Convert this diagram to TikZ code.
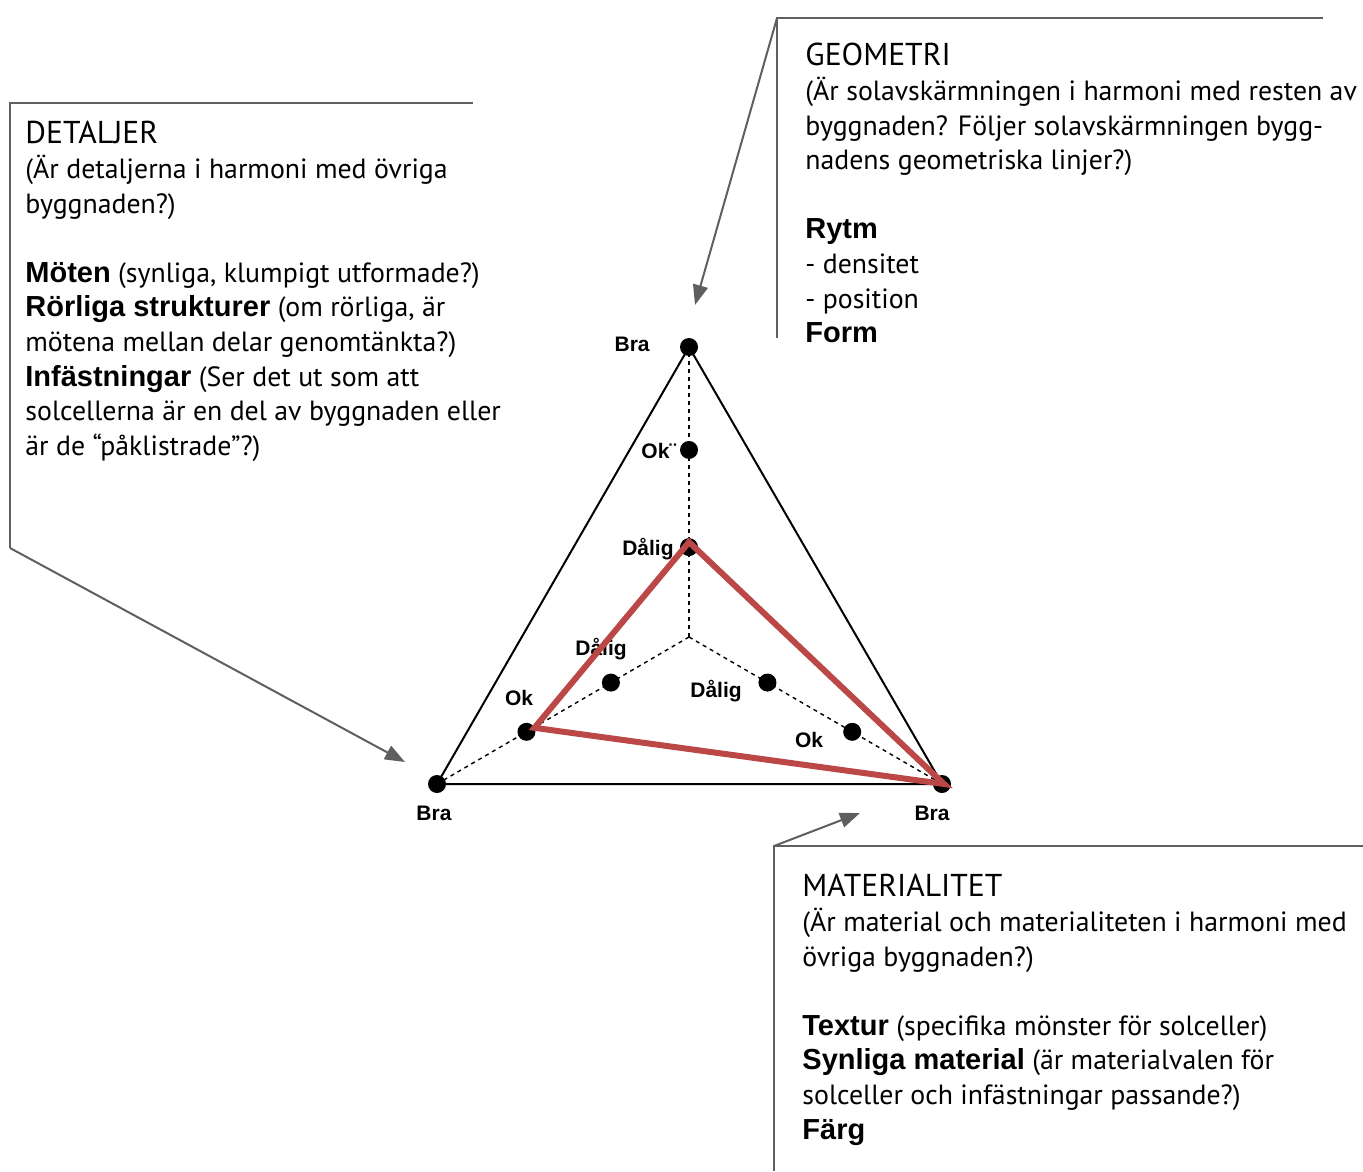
\documentclass[tikz,border=0pt]{standalone}
\usepackage{fontspec}
\setmainfont{PT Sans}
\newfontfamily\labelfont{Liberation Sans}
\usetikzlibrary{arrows.meta,calc}

\definecolor{callgray}{RGB}{95,95,95}
\definecolor{scorered}{RGB}{187,72,70}

\tikzset{
  callout/.style={draw=callgray, line width=1pt},
  calltip/.style={callout, -{Triangle[length=10pt,width=7.5pt]}},
  axis/.style={line width=0.7pt, dash pattern=on 2pt off 2pt},
  dot/.style={circle, fill=black, inner sep=0pt, minimum size=9pt},
  lbl/.style={font=\labelfont\bfseries\fontsize{10.5}{12}\selectfont, inner sep=0pt},
  txt/.style={anchor=north west, align=left, inner sep=0pt,
    font=\fontsize{13.9}{17.3}\selectfont},
}
\newcommand{\hd}[1]{{\labelfont\bfseries\fontsize{14.5}{17.3}\selectfont #1}}
\newcommand{\ttl}[1]{{\fontsize{15.8}{17.3}\selectfont #1}}

\begin{document}
\begin{tikzpicture}[x=0.5pt,y=-0.5pt]
\useasboundingbox (0,0) rectangle (1363,1171);

% triangle corners and centre
\coordinate (T) at (689,347);
\coordinate (L) at (437,784);
\coordinate (R) at (942,784);
\coordinate (C) at (689,637);

% score points on each axis
\coordinate (dT) at ($(C)!0.31!(T)$);
\coordinate (oT) at ($(C)!0.645!(T)$);
\coordinate (dL) at ($(C)!0.31!(L)$);
\coordinate (oL) at ($(C)!0.645!(L)$);
\coordinate (dR) at ($(C)!0.31!(R)$);
\coordinate (oR) at ($(C)!0.645!(R)$);

\draw[line width=1pt] (T) -- (L) -- (R) -- cycle;
\draw[axis] (C) -- (T);
\draw[axis] (C) -- (L);
\draw[axis] (C) -- (R);

\foreach \p in {T,L,R,dT,oT,dL,oL,dR,oR}
  \node[dot] (n\p) at (\p) {};

% scale labels
\node[lbl, anchor=east] (braT) at (650,344) {Bra};
\node[lbl, anchor=west] (okT) at (641,451) {Ok¨};
\node[lbl, anchor=east] (daligT) at (674,549) {Dålig};
\node[lbl] (daligL) at (601,649) {Dålig};
\node[lbl] (okL) at (519,698) {Ok};
\node[lbl] (daligR) at (716,691) {Dålig};
\node[lbl] (okR) at (809,740) {Ok};
\node[lbl] (braL) at (434,813) {Bra};
\node[lbl] (braR) at (932,813) {Bra};

% assessed profile
\draw[scorered, line width=3pt]
  ($(dT)+(0,-5)$) -- ($(oL)+(8,-4)$) -- ($(R)+(2,0)$) -- cycle;

% callout DETALJER
\coordinate (detC) at (10,103);
\coordinate (detE) at (473,103);
\coordinate (detB) at (10,548);
\coordinate (detTip) at (405,762);
\draw[callout] (detE) -- (detC) -- (detB);
\draw[calltip] (detB) -- (detTip);
\node[txt] (detaljer) at (25,121) {\ttl{DETALJER}\\
(Är detaljerna i harmoni med övriga\\
byggnaden?)\\[17.3pt]
\hd{Möten} (synliga, klumpigt utformade?)\\
\hd{Rörliga strukturer} (om rörliga, är\\
mötena mellan delar genomtänkta?)\\
\hd{Infästningar} (Ser det ut som att\\
solcellerna är en del av byggnaden eller\\
är de “påklistrade”?)};

% callout GEOMETRI
\coordinate (geoC) at (777,18);
\coordinate (geoE) at (1323,18);
\coordinate (geoB) at (777,338);
\coordinate (geoTip) at (695,305);
\draw[callout] (geoE) -- (geoC) -- (geoB);
\draw[calltip] (geoC) -- (geoTip);
\node[txt] (geometri) at (805,43) {\ttl{GEOMETRI}\\
(Är solavskärmningen i harmoni med resten av\\
byggnaden? Följer solavskärmningen bygg-\\
nadens geometriska linjer?)\\[17.3pt]
\hd{Rytm}\\
- densitet\\
- position\\
\hd{Form}};

% callout MATERIALITET
\coordinate (matC) at (774,846);
\coordinate (matE) at (1363,846);
\coordinate (matB) at (774,1171);
\coordinate (matTip) at (860,813);
\draw[callout] (matE) -- (matC) -- (matB);
\draw[calltip] (matC) -- (matTip);
\node[txt] (materialitet) at (802,874) {\ttl{MATERIALITET}\\
(Är material och materialiteten i harmoni med\\
övriga byggnaden?)\\[17.3pt]
\hd{Textur} (specifika mönster för solceller)\\
\hd{Synliga material} (är materialvalen för\\
solceller och infästningar passande?)\\
\hd{Färg}};
\end{tikzpicture}
\end{document}
